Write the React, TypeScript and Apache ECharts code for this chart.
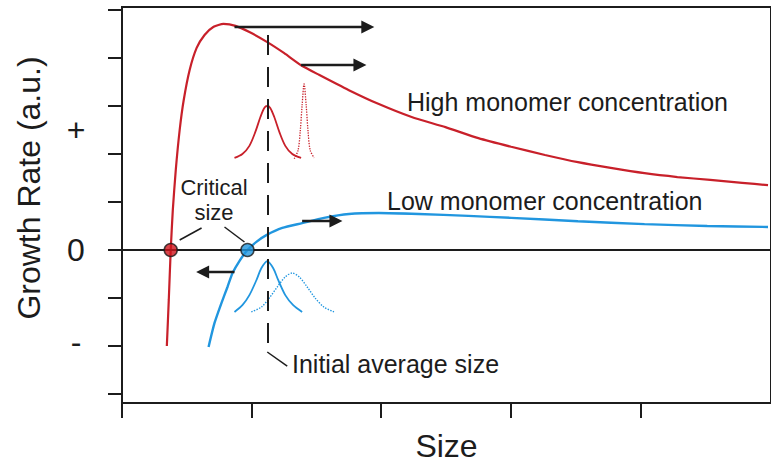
import React, { useEffect, useRef } from "react";
import * as echarts from "echarts";

// ---- Data (x: size in tick units, y: growth rate in tick units) ----
const xTickValues = [0, 1, 2, 3, 4];
const yTickValues = [-3, -2, -1, 0, 1, 2, 3, 4, 5];
const yLabelValues = [2.5, 0, -1.92];

const highCurve: [number, number][] = [
  [0.346, -2.0], [0.361, -1.04], [0.376, 0], [0.392, 0.83], [0.415, 1.67],
  [0.445, 2.5], [0.476, 3.12], [0.522, 3.75], [0.576, 4.21], [0.637, 4.48],
  [0.707, 4.65], [0.783, 4.71], [0.876, 4.67], [0.983, 4.54], [1.121, 4.33],
  [1.252, 4.1], [1.382, 3.85], [1.52, 3.65], [1.751, 3.33], [1.982, 3.04],
  [2.235, 2.77], [2.496, 2.56], [2.75, 2.33], [3.003, 2.15], [3.264, 1.98],
  [3.518, 1.83], [3.771, 1.71], [4.032, 1.6], [4.286, 1.52], [4.539, 1.46],
  [4.785, 1.4], [4.985, 1.35],
];

const lowCurve: [number, number][] = [
  [0.668, -2.02], [0.714, -1.52], [0.768, -1.1], [0.814, -0.77], [0.853, -0.48],
  [0.906, -0.23], [0.968, 0], [1.037, 0.17], [1.114, 0.31], [1.237, 0.46],
  [1.39, 0.56], [1.559, 0.67], [1.751, 0.75], [1.982, 0.77], [2.289, 0.75],
  [2.673, 0.71], [3.003, 0.67], [3.518, 0.6], [4.032, 0.54], [4.516, 0.5],
  [4.985, 0.48],
];

const highDistInitial: [number, number][] = [
  [0.868, 1.92], [0.929, 2.0], [0.983, 2.17], [1.029, 2.46], [1.068, 2.77],
  [1.098, 2.96], [1.121, 3.0], [1.144, 2.96], [1.175, 2.77], [1.214, 2.46],
  [1.26, 2.17], [1.314, 2.0], [1.382, 1.92],
];
const highDistLater: [number, number][] = [
  [1.329, 1.9], [1.359, 2.08], [1.375, 2.46], [1.39, 3.02], [1.405, 3.46],
  [1.421, 3.02], [1.436, 2.46], [1.452, 2.08], [1.482, 1.92],
];
const lowDistInitial: [number, number][] = [
  [0.868, -1.29], [0.929, -1.15], [0.983, -0.94], [1.037, -0.63], [1.075, -0.38],
  [1.121, -0.23], [1.167, -0.38], [1.206, -0.63], [1.26, -0.94], [1.321, -1.15],
  [1.39, -1.29],
];
const lowDistLater: [number, number][] = [
  [0.998, -1.29], [1.075, -1.19], [1.137, -1.0], [1.198, -0.77], [1.26, -0.56],
  [1.314, -0.48], [1.367, -0.56], [1.429, -0.77], [1.49, -1.0], [1.559, -1.19],
  [1.636, -1.29],
];

const criticalSizes = [0.376, 0.968];

const INK = "#1c1c1c";
const RED = "#c8202a";
const BLUE = "#2196df";
const FONT = "'Liberation Sans', Arial, Helvetica, sans-serif";

// Annotation geometry (data units)
const arrows: [number, number, number][] = [
  [0.868, 1.897, 4.646],
  [1.382, 1.836, 3.854],
  [1.39, 1.651, 0.604],
  [0.868, 0.622, -0.458],
];
const initialSize = 1.121;

export default function App() {
  const ref = useRef<HTMLDivElement>(null);
  useEffect(() => {
    if (!ref.current) return;
    const chart = echarts.init(ref.current, null, { renderer: "svg" });

    const arrowLines = arrows.map(([x1, x2, y]) => [
      { coord: [x1, y], symbol: "none", lineStyle: { color: INK, width: 2.3, type: "solid" } },
      { coord: [x2, y], symbol: "triangle", symbolSize: [13, 13] },
    ]);

    const thin = { color: INK, width: 1.5, type: "solid" };

    const option: any = {
      animation: false,
      backgroundColor: "#ffffff",
      grid: {
        left: 122, top: 7, right: -3, bottom: 66,
        show: true, borderColor: INK, borderWidth: 2, backgroundColor: "transparent",
      },
      xAxis: {
        type: "value", min: 0, max: 5.008,
        axisLine: { show: true, onZero: false, lineStyle: { color: INK, width: 2 } },
        axisTick: { show: true, length: 15, customValues: xTickValues, lineStyle: { color: INK, width: 2 } },
        axisLabel: { show: false },
        splitLine: { show: false },
        name: "Size", nameLocation: "middle", nameGap: 27,
        nameTextStyle: { fontSize: 32, color: INK, fontFamily: FONT },
      },
      yAxis: {
        type: "value", min: -3.1875, max: 5.0625,
        axisLine: { show: true, onZero: false, lineStyle: { color: INK, width: 2 } },
        axisTick: { show: true, length: 14, customValues: yTickValues, lineStyle: { color: INK, width: 2 } },
        axisLabel: {
          show: true, customValues: yLabelValues, margin: 46, align: "center",
          fontSize: 32, color: INK, fontFamily: FONT,
          formatter: (v: number) => (v > 1 ? "+" : v < -1 ? "-" : "0"),
        },
        splitLine: { show: false },
      },
      graphic: [
        {
          type: "text", x: 29, y: 188, rotation: Math.PI / 2,
          style: { text: "Growth Rate (a.u.)", fontSize: 32, fontFamily: FONT, fill: INK, align: "center", verticalAlign: "middle" },
        },
        {
          type: "text", x: 214, y: 200,
          style: { text: "Critical\nsize", fontSize: 22, lineHeight: 25, fontFamily: FONT, fill: INK, align: "center", verticalAlign: "middle" },
        },
        {
          type: "text", x: 407, y: 102,
          style: { text: "High monomer concentration", fontSize: 25, fontFamily: FONT, fill: INK, align: "left", verticalAlign: "middle" },
        },
        {
          type: "text", x: 387, y: 201,
          style: { text: "Low monomer concentration", fontSize: 25, fontFamily: FONT, fill: INK, align: "left", verticalAlign: "middle" },
        },
        {
          type: "text", x: 292, y: 364,
          style: { text: "Initial average size", fontSize: 25, fontFamily: FONT, fill: INK, align: "left", verticalAlign: "middle" },
        },
      ],
      series: [
        {
          type: "line", name: "High monomer concentration", data: highCurve,
          showSymbol: false, smooth: 0.2, silent: true, z: 3,
          lineStyle: { color: RED, width: 2.2 },
          markLine: {
            silent: true, symbol: ["none", "none"], label: { show: false },
            emphasis: { disabled: true },
            data: [
              { yAxis: 0, lineStyle: { color: INK, width: 2, type: "solid" } },
              ...arrowLines,
              [
                { coord: [initialSize, 4.479], lineStyle: { color: INK, width: 2, type: [20, 12] } },
                { coord: [initialSize, -2.125] },
              ],
              [{ coord: [initialSize, -2.125], lineStyle: thin }, { coord: [1.275, -2.417] }],
              [{ coord: [0.445, 0.208], lineStyle: thin }, { coord: [0.614, 0.458] }],
              [{ coord: [0.791, 0.479], lineStyle: thin }, { coord: [0.945, 0.167] }],
            ],
          },
        },
        {
          type: "line", name: "Low monomer concentration", data: lowCurve,
          showSymbol: false, smooth: 0.2, silent: true, z: 3,
          lineStyle: { color: BLUE, width: 2.4 },
        },
        {
          type: "line", data: highDistInitial, showSymbol: false, smooth: 0.3, silent: true, z: 3,
          lineStyle: { color: RED, width: 1.8 },
        },
        {
          type: "line", data: highDistLater, showSymbol: false, smooth: 0.3, silent: true, z: 3,
          lineStyle: { color: RED, width: 1.3, type: "dotted" },
        },
        {
          type: "line", data: lowDistInitial, showSymbol: false, smooth: 0.3, silent: true, z: 3,
          lineStyle: { color: BLUE, width: 1.8 },
        },
        {
          type: "line", data: lowDistLater, showSymbol: false, smooth: 0.3, silent: true, z: 3,
          lineStyle: { color: BLUE, width: 1.4, type: "dotted" },
        },
        {
          type: "scatter", silent: true, z: 6, symbolSize: 13,
          data: criticalSizes.map((x, i) => ({
            value: [x, 0],
            itemStyle: { color: i === 0 ? "#d0141c" : BLUE, borderColor: INK, borderWidth: 1.5 },
          })),
        },
      ],
    };
    chart.setOption(option);
    return () => chart.dispose();
  }, []);

  return (
    <div
      ref={ref}
      style={{ position: "fixed", left: 0, top: 0, width: 771, height: 469, background: "#fff" }}
    />
  );
}
